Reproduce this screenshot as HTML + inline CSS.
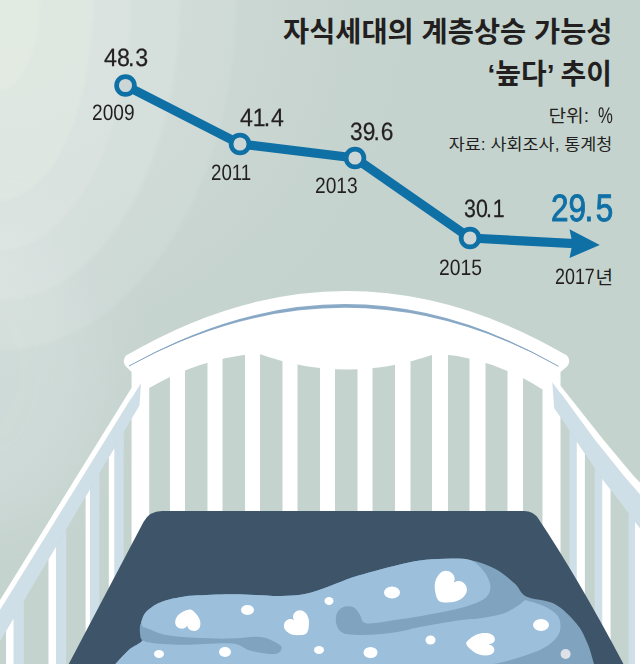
<!DOCTYPE html>
<html lang="ko">
<head>
<meta charset="utf-8">
<title>자식세대의 계층상승 가능성 ‘높다’ 추이</title>
<style>
html,body{margin:0;padding:0}
body{width:640px;height:664px;overflow:hidden;position:relative;background:#c5d3cf;font-family:"Liberation Sans",sans-serif;color:#231f20}
svg{position:absolute;left:0;top:0;display:block}
.n,.y{text-rendering:geometricPrecision;position:absolute;line-height:1;white-space:nowrap;transform-origin:0 0;margin:0}
.n{-webkit-text-stroke:.25px currentColor}
.k{position:absolute;margin:0;padding:0;font-weight:normal;color:transparent;white-space:nowrap;overflow:hidden}
.n span{margin:0 1px 0 -2.1px}
.big{-webkit-text-stroke:1px currentColor}
.big span{margin:0 3px 0 -1.8px}
</style>
</head>
<body>
<svg width="640" height="664" viewBox="0 0 640 664" role="img" aria-label="자식세대의 계층상승 가능성 ‘높다’ 추이">
<defs>
<filter id="bl2" x="-50%" y="-50%" width="200%" height="200%"><feGaussianBlur stdDeviation="32"/></filter>
<filter id="bl" x="-20%" y="-20%" width="140%" height="140%"><feGaussianBlur stdDeviation="1.6"/></filter>
<radialGradient id="g1" gradientUnits="userSpaceOnUse" cx="0" cy="0" r="460">
<stop offset="0" stop-color="#cfdad6"/><stop offset=".5" stop-color="#ccd8d4" stop-opacity=".95"/><stop offset="1" stop-color="#c5d3cf" stop-opacity="0"/>
</radialGradient>
</defs>
<rect width="640" height="664" fill="#c5d3cf"/>
<rect width="640" height="664" fill="url(#g1)"/>
<ellipse cx="-20" cy="370" rx="120" ry="150" fill="#fff" opacity=".17" filter="url(#bl2)"/>
<g filter="url(#bl)" fill="#fff">
<ellipse cx="0" cy="0" rx="236" ry="350" opacity=".085"/>
<ellipse cx="0" cy="0" rx="180" ry="300" opacity=".09"/>
<ellipse cx="0" cy="0" rx="131" ry="250" opacity=".10"/>
<ellipse cx="0" cy="0" rx="94" ry="200" opacity=".14" fill="#f8fdec"/>
<ellipse cx="0" cy="0" rx="40" ry="90" opacity=".18" fill="#f6fae6"/>
</g>

<!-- crib headboard -->
<g fill="#fff">
<path d="M131.6,664V372L126,366.5Q121.5,361 126,355.6Q346.5,226.4 567,355.6Q571.5,361 567,366.5L560.5,372V664H542.5V389.5Q494,358 436,353.5Q347,385.5 258,353.5Q200,358 149.2,388V664Z"/>
<rect x="170" y="340" width="15" height="180"/><rect x="207.5" y="340" width="15.0" height="180"/><rect x="245" y="340" width="15" height="180"/><rect x="282.5" y="340" width="15.0" height="180"/><rect x="320" y="340" width="15" height="180"/><rect x="357.5" y="340" width="15.0" height="180"/><rect x="395" y="340" width="15.5" height="180"/><rect x="432" y="340" width="16" height="180"/><rect x="469.5" y="340" width="16.0" height="180"/><rect x="507.5" y="340" width="15.5" height="180"/>
</g>
<path d="M129,366Q346.5,242 558.5,366.3Q346.5,249.6 129,366Z" fill="#8dadc9"/><path d="M129,366Q346.5,245.8 558.5,366.3" fill="none" stroke="#86a6c3" stroke-width="1"/>

<!-- left side rail -->
<g>
<path d="M108.8,664V457.2L114.6,447.4V664Z" fill="#fff"/><path d="M114.6,664V447.4L123.7,432.0V664Z" fill="#cfdfe8"/>
<path d="M85.6,664V496.4L90,489.0V664Z" fill="#fff"/><path d="M90,664V489.0L99.4,473.1V664Z" fill="#cfdfe8"/>
<path d="M48.5,664V559.1L56,546.4V664Z" fill="#fff"/><path d="M56,664V546.4L66.25,529.1V664Z" fill="#cfdfe8"/>
<path d="M6,664V630.9L13.75,617.8V664Z" fill="#fff"/><path d="M13.75,664V617.8L23.75,600.9V664Z" fill="#cfdfe8"/>
<path d="M141,383L139.5,405.6L132,418L0,641V610L18.7,580L90.2,464.4Z" fill="#cfdfe8"/>
<path d="M133,385.5L141,382.5L90.2,464.4L18.7,580L0,610V600L12.5,580L84,464.4Z" fill="#fff"/>
</g>
<!-- right side rail -->
<g>
<path d="M569.5,664V430.5L576.7,441.3V664Z" fill="#cfdfe8"/><path d="M576.7,664V441.3L584.9,453.5V664Z" fill="#fff"/>
<path d="M594.8,664V468.2L602.2,478.6V664Z" fill="#cfdfe8"/><path d="M602.2,664V478.6L610.6,489.6V664Z" fill="#fff"/>
<path d="M628.6,664V513.1L635,521.5V664Z" fill="#cfdfe8"/><path d="M635,664V521.5L641,529.3V664Z" fill="#fff"/>
<path d="M552.3,382.2L554.2,408.3L560.4,417L598.7,474L640,528V494.5L624.8,477L595,440Z" fill="#cfdfe8"/>
<path d="M560.4,385.5L552.3,381.8L595,440L624.8,477L640,494.5V482.5L633.7,476L603.6,440Z" fill="#fff"/>
</g>

<!-- mattress -->
<path d="M68.75,664L143.5,522Q149.3,511 162,511H524Q533.6,511 538.6,519Q578,578 623.5,664Z" fill="#3e5569"/>

<!-- blanket -->
<g>
<path d="M110.0,670.0C110.0,670.0 123.3,655.0 128.8,650.0C134.2,645.0 140.8,644.0 142.8,640.0C144.8,636.0 141.0,629.8 141.0,626.0C141.0,622.2 141.9,619.6 143.0,617.0C144.1,614.4 145.3,612.7 147.5,610.6C149.7,608.5 152.9,606.2 156.0,604.5C159.1,602.8 162.2,601.5 166.2,600.3C170.2,599.1 175.3,598.1 180.0,597.3C184.7,596.5 186.1,596.1 194.4,595.6C202.7,595.1 219.9,594.4 230.0,594.3C240.1,594.2 246.5,594.7 255.0,595.0C263.5,595.3 272.7,596.2 281.0,596.0C289.3,595.8 296.8,595.7 305.0,594.0C313.2,592.3 322.2,588.8 330.0,586.0C337.8,583.2 344.5,580.0 352.0,577.5C359.5,575.0 367.0,573.2 375.0,571.0C383.0,568.8 392.5,566.2 400.0,564.5C407.5,562.8 412.5,561.5 420.0,560.5C427.5,559.5 436.7,558.8 445.0,558.8C453.3,558.7 461.7,558.3 470.0,560.0C478.3,561.7 487.5,564.8 495.0,568.8C502.5,572.7 509.8,579.1 515.0,583.8C520.2,588.4 519.4,593.0 526.0,596.4C532.6,599.8 546.3,599.4 554.7,604.0C563.1,608.6 571.1,617.2 576.6,623.8C582.1,630.3 584.6,636.7 587.5,643.4C590.4,650.1 592.6,659.2 594.0,664.0C595.4,668.8 596.0,672.0 596.0,672.0C596.0,672.0 110.0,670.0 110.0,670.0Z" fill="#80a3c0"/>
<path d="M110.0,670.0C110.0,670.0 123.3,655.0 128.8,650.0C134.2,645.0 140.8,644.0 142.8,640.0C144.8,636.0 141.0,629.8 141.0,626.0C141.0,622.2 141.9,619.6 143.0,617.0C144.1,614.4 145.3,612.7 147.5,610.6C149.7,608.5 152.9,606.2 156.0,604.5C159.1,602.8 162.2,601.5 166.2,600.3C170.2,599.1 175.3,598.1 180.0,597.3C184.7,596.5 186.1,596.1 194.4,595.6C202.7,595.1 219.9,594.4 230.0,594.3C240.1,594.2 246.5,594.7 255.0,595.0C263.5,595.3 272.7,596.2 281.0,596.0C289.3,595.8 296.8,595.7 305.0,594.0C313.2,592.3 322.2,588.8 330.0,586.0C337.8,583.2 344.5,580.0 352.0,577.5C359.5,575.0 367.0,573.2 375.0,571.0C383.0,568.8 392.5,566.2 400.0,564.5C407.5,562.8 412.5,561.5 420.0,560.5C427.5,559.5 436.7,558.8 445.0,558.8C453.3,558.7 463.5,557.9 470.0,560.0C476.5,562.1 480.4,567.3 483.8,571.2C487.1,575.2 489.2,580.0 490.0,583.8C490.8,587.5 490.4,590.8 488.8,593.8C487.1,596.7 485.2,598.8 480.0,601.2C474.8,603.8 467.5,606.2 457.5,608.8C447.5,611.2 429.9,614.5 420.0,616.2C410.1,618.0 405.5,618.4 398.0,619.5C390.5,620.6 380.7,622.5 375.0,623.0C369.3,623.5 366.5,623.8 364.0,622.5C361.5,621.2 361.7,617.5 360.0,615.0C358.3,612.5 356.5,608.9 354.0,607.5C351.5,606.1 347.8,605.8 345.0,606.5C342.2,607.2 339.0,609.4 337.5,612.0C336.0,614.6 335.6,618.8 336.0,622.0C336.4,625.2 337.7,628.9 340.0,631.0C342.3,633.1 344.2,633.9 350.0,634.5C355.8,635.1 366.7,635.0 375.0,634.5C383.3,634.0 392.5,632.8 400.0,631.5C407.5,630.2 410.4,628.8 420.0,627.0C429.6,625.2 447.1,622.0 457.5,620.5C467.9,619.0 475.0,619.1 482.5,618.0C490.0,616.9 496.9,615.6 502.5,613.8C508.1,611.9 512.2,609.3 516.0,607.0C519.8,604.7 525.0,600.0 525.0,600.0C525.0,600.0 538.4,603.5 543.8,606.0C549.1,608.5 554.2,611.7 557.0,615.0C559.8,618.3 560.5,622.3 560.5,626.0C560.5,629.7 559.8,633.3 557.0,637.0C554.2,640.7 549.6,644.7 543.8,648.0C537.9,651.3 529.3,654.1 522.0,656.6C514.7,659.1 508.7,660.8 500.0,662.7C491.3,664.6 480.0,666.1 470.0,668.0C460.0,669.9 440.0,674.0 440.0,674.0C440.0,674.0 110.0,670.0 110.0,670.0Z" fill="#9cbfdc"/>
<path d="M140.5,624.0C141.1,623.0 142.3,626.6 143.5,627.3C144.7,628.0 143.7,627.1 147.5,628.4C151.3,629.7 158.4,633.4 166.2,635.0C174.1,636.6 183.8,637.2 194.4,637.8C205.0,638.4 219.0,638.8 230.0,638.6C241.0,638.5 252.6,636.1 260.6,636.9C268.6,637.7 274.3,641.6 277.8,643.6C281.3,645.6 282.1,647.3 281.5,649.0C280.9,650.7 279.6,653.8 274.4,654.0C269.1,654.2 257.1,652.2 250.0,650.5C242.9,648.8 242.8,644.5 232.0,643.5C221.2,642.5 197.5,644.8 185.0,644.8C172.5,644.7 163.9,644.1 156.9,643.4C149.9,642.7 145.6,642.2 142.8,640.5C140.0,638.8 140.4,635.8 140.0,633.0C139.6,630.2 139.9,625.0 140.5,624.0Z" fill="#80a3c0"/>
</g>
<g fill="#fff">
<ellipse cx="247.5" cy="610" rx="6.5" ry="5"/><ellipse cx="329" cy="601" rx="4.5" ry="4"/>
<ellipse cx="159" cy="654" rx="5" ry="4"/><ellipse cx="225" cy="652" rx="6" ry="5"/>
<ellipse cx="319" cy="650" rx="5" ry="4"/><ellipse cx="392" cy="592.5" rx="8" ry="6"/>
<ellipse cx="430.5" cy="640" rx="5" ry="4.5"/><ellipse cx="370.5" cy="652.5" rx="7" ry="5.5"/>
<ellipse cx="541" cy="625" rx="8" ry="6"/><ellipse cx="565.6" cy="654" rx="5" ry="5" fill="#dfe1e8"/>
<use href="#ht" transform="translate(188.5,619.6) rotate(191) scale(1.27,1.08)"/>
<use href="#ht" transform="translate(298.6,624.8) rotate(-44) scale(1.32,1.22)"/>
<use href="#ht" transform="translate(448.2,589.3) rotate(40) scale(1.67,1.56)"/>
<use href="#ht" transform="translate(480.4,644) rotate(93) scale(1.12,1.5)"/>
</g>
<defs><path id="ht" d="M0,9.5C-1.5,9.5 -3,8.3 -4.5,7C-7.5,4.3 -10,1.3 -10,-3.5C-10,-7.5 -7.3,-9.5 -4.7,-9.5C-2.3,-9.5 -0.6,-8 0,-5.6C0.6,-8 2.3,-9.5 4.7,-9.5C7.3,-9.5 10,-7.5 10,-3.5C10,1.3 7.5,4.3 4.5,7C3,8.3 1.5,9.5 0,9.5Z"/></defs>

<!-- chart -->
<g fill="none" stroke="#0f70a6">
<path d="M125.5,85.5L240,144L355,158L470,238L575,243.6" stroke-width="9.2" stroke-linejoin="round"/>
</g>
<path d="M569.5,229.3L599.8,245L569.5,258L572.5,243.5Z" fill="#0f70a6"/>
<g fill="#cdd6d6" stroke="#0f70a6" stroke-width="4.7">
<circle cx="125.5" cy="85.5" r="8.9"/><circle cx="240" cy="144" r="8.9"/><circle cx="355" cy="158" r="8.9"/><circle cx="470" cy="238" r="8.9"/>
</g>

<!-- korean text -->
<g fill="#231f20" font-family="&quot;Liberation Sans&quot;, &quot;Noto Sans CJK KR&quot;, sans-serif">
<text x="283" y="42" font-size="28" font-weight="700" textLength="329.5" lengthAdjust="spacingAndGlyphs">자식세대의 계층상승 가능성</text>
<text x="487.5" y="83.5" font-size="28" font-weight="700" textLength="124.5" lengthAdjust="spacingAndGlyphs">‘높다’ 추이</text>
<text x="548.5" y="122" font-size="17.5" textLength="40.5" lengthAdjust="spacingAndGlyphs">단위:</text>
<text x="448.8" y="150" font-size="16" textLength="163.6" lengthAdjust="spacingAndGlyphs">자료: 사회조사, 통계청</text>
<text x="595.5" y="283.5" font-size="18" textLength="17.5" lengthAdjust="spacingAndGlyphs">년</text>
</g>
</svg>
<div class="n" style="left:104.2px;top:46.0px;font-size:25px;transform:scale(0.930,1.000);">48<span>.</span>3</div>
<div class="y" style="left:91.7px;top:101.9px;font-size:22.3px;transform:scale(0.857,1.000);">2009</div>
<div class="n" style="left:239.6px;top:105.9px;font-size:25px;transform:scale(0.922,1.000);">41<span>.</span>4</div>
<div class="y" style="left:211.2px;top:162.0px;font-size:22.3px;transform:scale(0.839,1.000);">2011</div>
<div class="n" style="left:349.9px;top:119.6px;font-size:25px;transform:scale(0.910,1.000);">39<span>.</span>6</div>
<div class="y" style="left:314.7px;top:175.4px;font-size:22.3px;transform:scale(0.860,1.000);">2013</div>
<div class="n" style="left:463.6px;top:197.2px;font-size:25px;transform:scale(0.855,1.000);">30<span>.</span>1</div>
<div class="y" style="left:439.1px;top:256.8px;font-size:22.3px;transform:scale(0.866,1.000);">2015</div>
<div class="n big" style="left:551.4px;top:190.2px;font-size:38px;transform:scale(0.828,1.000);color:#0f70a6;">29<span>.</span>5</div>
<div class="y" style="left:555.2px;top:265.8px;font-size:22.3px;transform:scale(0.802,1.000);">2017</div>
<div class="y" style="left:597.8px;top:104.8px;font-size:22.6px;transform:scale(0.739,1.000);">%</div>
<h1 class="k" style="left:283px;top:11px;width:330px;font-size:29px;line-height:41px;text-align:right">자식세대의 계층상승 가능성<br>‘높다’ 추이</h1>
<p class="k" style="left:540px;top:103px;width:50px;font-size:18px;line-height:22px">단위:</p>
<p class="k" style="left:449px;top:133px;width:163px;font-size:17px;line-height:22px;text-align:right">자료: 사회조사, 통계청</p>
<p class="k" style="left:596px;top:265px;width:18px;font-size:17px;line-height:20px">년</p>
</body>
</html>
